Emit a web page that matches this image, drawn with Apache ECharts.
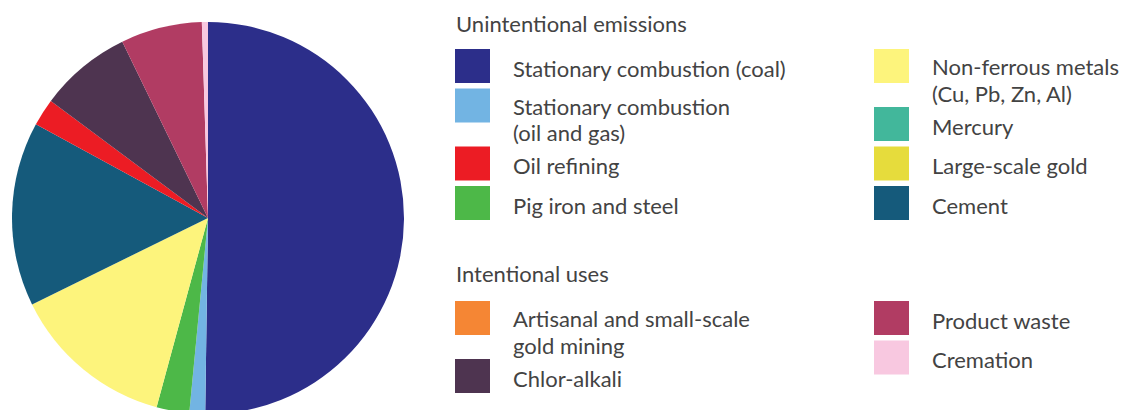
<!DOCTYPE html>
<html>
<head>
<meta charset="utf-8">
<script src="https://cdn.jsdelivr.net/npm/echarts@6/dist/echarts.min.js"></script>
<style>
  html, body { margin: 0; padding: 0; background: #ffffff; }
  #chart { width: 1124px; height: 410px; }
</style>
</head>
<body>
<div id="chart"></div>
<script>
// Slices of the pie, clockwise from 12 o'clock (share of total, %)
const sliceNames = [
  'Stationary combustion (coal)',
  'Stationary combustion (oil and gas)',
  'Pig iron and steel',
  'Non-ferrous metals (Cu, Pb, Zn, Al)',
  'Cement',
  'Oil refining',
  'Chlor-alkali',
  'Product waste',
  'Cremation'
];
const sliceValues = [50.2, 1.3, 2.7, 13.5, 15.2, 2.25, 7.6, 6.7, 0.5];

// Legend groups and their two columns
const groupTitles = ['Unintentional emissions', 'Intentional uses'];
const unintentionalLeft = [
  'Stationary combustion (coal)',
  'Stationary combustion (oil and gas)',
  'Oil refining',
  'Pig iron and steel'
];
const unintentionalRight = [
  'Non-ferrous metals (Cu, Pb, Zn, Al)',
  'Mercury',
  'Large-scale gold',
  'Cement'
];
const intentionalLeft = ['Artisanal and small-scale gold mining', 'Chlor-alkali'];
const intentionalRight = ['Product waste', 'Cremation'];

// Where a legend label breaks onto a second line
const labelLines = {
  'Stationary combustion (oil and gas)': ['Stationary combustion', '(oil and gas)'],
  'Non-ferrous metals (Cu, Pb, Zn, Al)': ['Non-ferrous metals', '(Cu, Pb, Zn, Al)'],
  'Artisanal and small-scale gold mining': ['Artisanal and small-scale', 'gold mining']
};

// Colour of each source
const sourceColors = {
  'Stationary combustion (coal)': '#2c2e8a',
  'Stationary combustion (oil and gas)': '#72b4e3',
  'Oil refining': '#ec1c24',
  'Pig iron and steel': '#4db848',
  'Non-ferrous metals (Cu, Pb, Zn, Al)': '#fdf47c',
  'Mercury': '#42b79b',
  'Large-scale gold': '#e6dc3c',
  'Cement': '#155a7b',
  'Artisanal and small-scale gold mining': '#f58634',
  'Chlor-alkali': '#4e3450',
  'Product waste': '#b13c63',
  'Cremation': '#f8c8e0'
};

const FONT = 'Lato, "Open Sans", sans-serif';
const FONT_SIZE = 22;
const TEXT_COLOR = '#434343';
const ICON_W = 35, ICON_H = 34;
const LINE_GAP = 26.5;
// distance from the central line of the text to its alphabetic baseline
const CENTRAL_TO_BASE = 0.387 * FONT_SIZE;

// A (possibly multi-line) label whose first line sits on the given baseline
function textEl(x, baseline, lines) {
  return {
    type: 'text',
    silent: true,
    style: {
      x: x,
      y: baseline - CENTRAL_TO_BASE - LINE_GAP / 2,
      text: lines.join('\n'),
      lineHeight: LINE_GAP,
      fill: TEXT_COLOR,
      font: FONT_SIZE + 'px ' + FONT,
      align: 'left',
      verticalAlign: 'top'
    }
  };
}

// Lay out one legend column: icon + label per entry, stacked downwards
function legendColumn(names, iconX, textX, top) {
  const els = [];
  let y = top;
  names.forEach(function (name) {
    const lines = labelLines[name] || [name];
    const multi = lines.length > 1;
    els.push({
      type: 'rect', silent: true,
      shape: { x: iconX, y: y, width: ICON_W, height: ICON_H },
      style: { fill: sourceColors[name] }
    });
    els.push(textEl(textX, y + (multi ? 26.5 : 28), lines));
    y += multi ? 58 : 39.5;
  });
  return els;
}

const graphics = [].concat(
  [textEl(456, 32, [groupTitles[0]]), textEl(456, 282, [groupTitles[1]])],
  legendColumn(unintentionalLeft, 455, 513, 49),
  legendColumn(unintentionalRight, 874, 932, 49),
  legendColumn(intentionalLeft, 455, 513, 301),
  legendColumn(intentionalRight, 874, 932, 301)
);

const chart = echarts.init(document.getElementById('chart'), null, { renderer: 'svg' });
chart.setOption({
  animation: false,
  backgroundColor: '#ffffff',
  series: [{
    type: 'pie',
    center: [208, 218],
    radius: 196,
    startAngle: 90,
    clockwise: true,
    label: { show: false },
    labelLine: { show: false },
    emphasis: { disabled: true },
    itemStyle: { borderWidth: 0 },
    data: sliceNames.map(function (n, i) {
      return { name: n, value: sliceValues[i], itemStyle: { color: sourceColors[n] } };
    })
  }],
  graphic: graphics
});
</script>
</body>
</html>
